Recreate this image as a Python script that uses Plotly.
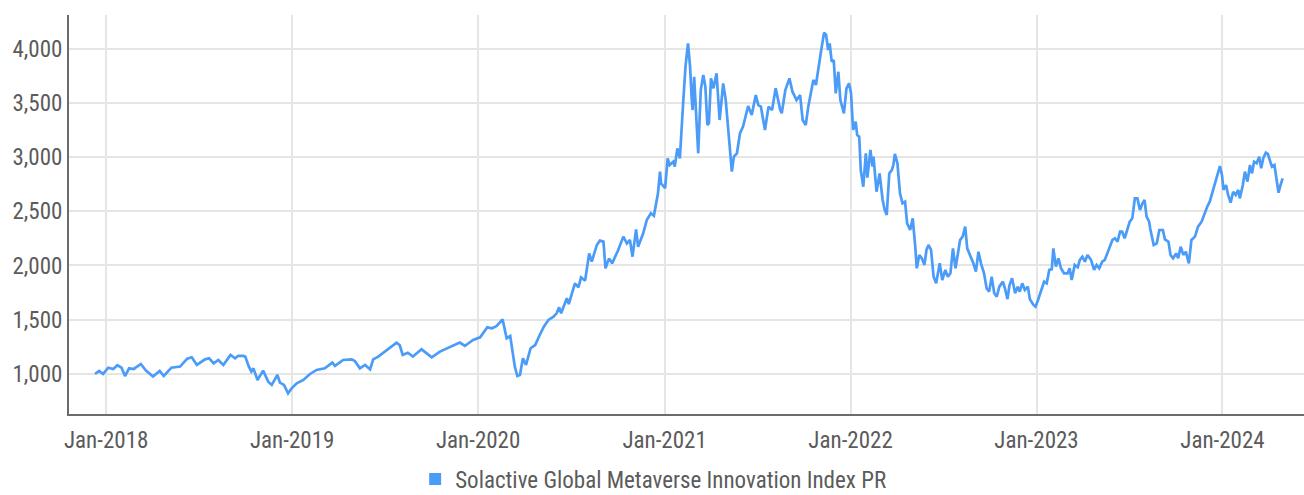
import plotly.graph_objects as go

SERIES_NAME = "Solactive Global Metaverse Innovation Index PR"

dates_2018 = ["2017-12-10", "2017-12-18", "2017-12-26", "2018-01-05", "2018-01-15", "2018-01-23", "2018-01-31",
              "2018-02-07", "2018-02-15", "2018-02-24", "2018-03-10", "2018-03-20", "2018-04-03", "2018-04-16",
              "2018-04-24", "2018-05-09", "2018-05-26", "2018-06-09", "2018-06-18", "2018-06-28", "2018-07-14",
              "2018-07-22", "2018-07-31", "2018-08-09", "2018-08-19", "2018-09-02", "2018-09-11", "2018-09-17",
              "2018-09-27", "2018-10-01", "2018-10-08", "2018-10-13", "2018-10-17", "2018-10-25", "2018-11-05",
              "2018-11-15", "2018-11-22", "2018-12-03", "2018-12-08", "2018-12-16", "2018-12-24", "2018-12-31"]
values_2018 = [1000, 1028, 1000, 1058, 1046, 1080, 1058,
               981, 1052, 1046, 1092, 1031, 976, 1028,
               981, 1058, 1068, 1141, 1154, 1083, 1135,
               1145, 1098, 1129, 1083, 1175, 1145, 1166,
               1166, 1160, 1068, 1023, 1052, 945, 1031,
               929, 899, 991, 920, 899, 822, 868]

dates_2019 = ["2019-01-10", "2019-01-23", "2019-02-05", "2019-02-18", "2019-03-06", "2019-03-21", "2019-03-26",
              "2019-04-11", "2019-04-28", "2019-05-04", "2019-05-14", "2019-05-24", "2019-06-03", "2019-06-09",
              "2019-06-19", "2019-07-02", "2019-07-15", "2019-07-25", "2019-07-31", "2019-08-06", "2019-08-16",
              "2019-08-26", "2019-09-12", "2019-10-02", "2019-10-18", "2019-11-07", "2019-11-26", "2019-12-06",
              "2019-12-22"]
values_2019 = [914, 945, 1000, 1037, 1052, 1104, 1074,
               1129, 1135, 1120, 1052, 1083, 1043, 1135,
               1160, 1206, 1252, 1289, 1267, 1175, 1196,
               1160, 1227, 1154, 1206, 1252, 1289, 1258,
               1313]

dates_2020 = ["2020-01-05", "2020-01-19", "2020-01-28", "2020-02-06", "2020-02-18", "2020-02-26", "2020-03-04",
              "2020-03-13", "2020-03-18", "2020-03-23", "2020-03-29", "2020-04-04", "2020-04-13", "2020-04-22",
              "2020-04-30", "2020-05-09", "2020-05-18", "2020-05-28", "2020-06-03", "2020-06-08", "2020-06-12",
              "2020-06-23", "2020-06-27", "2020-07-09", "2020-07-16", "2020-07-21", "2020-07-29", "2020-08-06",
              "2020-08-11", "2020-08-21", "2020-08-27", "2020-09-03", "2020-09-07", "2020-09-14", "2020-09-20",
              "2020-09-26", "2020-10-02", "2020-10-12", "2020-10-19", "2020-10-25", "2020-10-30", "2020-11-06",
              "2020-11-10", "2020-11-20", "2020-11-27", "2020-12-05", "2020-12-11", "2020-12-19", "2020-12-23",
              "2020-12-25"]
values_2020 = [1338, 1430, 1421, 1440, 1504, 1329, 1350,
               1068, 981, 990, 1144, 1083, 1237, 1267,
               1350, 1436, 1498, 1528, 1559, 1614, 1560,
               1698, 1645, 1836, 1799, 1891, 1860, 2112,
               2035, 2189, 2229, 2220, 1974, 2066, 2020,
               2081, 2143, 2266, 2204, 2235, 2081, 2333,
               2173, 2297, 2419, 2481, 2458, 2666, 2865,
               2758]

dates_2021 = ["2021-01-02", "2021-01-07", "2021-01-11", "2021-01-18", "2021-01-21", "2021-01-26", "2021-01-31",
              "2021-02-06", "2021-02-11", "2021-02-16", "2021-02-20", "2021-02-23", "2021-02-25", "2021-02-28",
              "2021-03-04", "2021-03-08", "2021-03-13", "2021-03-18", "2021-03-22", "2021-03-26", "2021-03-29",
              "2021-04-02", "2021-04-07", "2021-04-13", "2021-04-19", "2021-04-26", "2021-05-01", "2021-05-08",
              "2021-05-13", "2021-05-17", "2021-05-23", "2021-05-29", "2021-06-04", "2021-06-14", "2021-06-21",
              "2021-06-29", "2021-07-04", "2021-07-09", "2021-07-17", "2021-07-24", "2021-07-31", "2021-08-07",
              "2021-08-16", "2021-08-19", "2021-08-26", "2021-09-03", "2021-09-09", "2021-09-17", "2021-09-24",
              "2021-09-29", "2021-10-05", "2021-10-10", "2021-10-15", "2021-10-20", "2021-10-25", "2021-10-29",
              "2021-11-05", "2021-11-10", "2021-11-14", "2021-11-18", "2021-11-21", "2021-11-25", "2021-11-29",
              "2021-12-03", "2021-12-08", "2021-12-12", "2021-12-19", "2021-12-24", "2021-12-29"]
values_2021 = [2712, 2988, 2926, 2957, 2911, 3080, 2988,
               3464, 3833, 4048, 3833, 3556, 3433, 3740,
               3433, 3034, 3617, 3756, 3648, 3295, 3311,
               3725, 3633, 3771, 3341, 3679, 3525, 3126,
               2865, 3003, 3034, 3219, 3280, 3470, 3387,
               3571, 3479, 3464, 3249, 3464, 3433, 3633,
               3433, 3403, 3617, 3725, 3602, 3525, 3571,
               3341, 3295, 3464, 3602, 3710, 3664, 3802,
               4002, 4146, 4125, 3986, 4048, 3879, 3894,
               3587, 3786, 3525, 3403, 3633, 3679]

dates_2022 = ["2022-01-02", "2022-01-06", "2022-01-11", "2022-01-14", "2022-01-18", "2022-01-21", "2022-01-26",
              "2022-01-31", "2022-02-03", "2022-02-09", "2022-02-13", "2022-02-15", "2022-02-21", "2022-02-27",
              "2022-03-05", "2022-03-09", "2022-03-13", "2022-03-18", "2022-03-23", "2022-03-26", "2022-03-29",
              "2022-04-03", "2022-04-08", "2022-04-13", "2022-04-18", "2022-04-22", "2022-04-28", "2022-05-03",
              "2022-05-08", "2022-05-11", "2022-05-16", "2022-05-21", "2022-05-26", "2022-05-30", "2022-06-03",
              "2022-06-08", "2022-06-13", "2022-06-18", "2022-06-25", "2022-06-30", "2022-07-06", "2022-07-11",
              "2022-07-16", "2022-07-21", "2022-07-26", "2022-07-30", "2022-08-04", "2022-08-09", "2022-08-14",
              "2022-08-18", "2022-08-24", "2022-08-30", "2022-09-04", "2022-09-09", "2022-09-14", "2022-09-20",
              "2022-09-25", "2022-09-30", "2022-10-05", "2022-10-10", "2022-10-15", "2022-10-20", "2022-10-27",
              "2022-10-31", "2022-11-05", "2022-11-09", "2022-11-14", "2022-11-20", "2022-11-25", "2022-11-29",
              "2022-12-04", "2022-12-09", "2022-12-15", "2022-12-19", "2022-12-26", "2022-12-30"]
values_2022 = [3587, 3249, 3326, 3203, 3187, 2880, 2726,
               3034, 2810, 3065, 2911, 3003, 2680, 2849,
               2604, 2512, 2465, 2849, 2880, 2926, 3028,
               2942, 2665, 2573, 2588, 2389, 2327, 2435,
               2173, 1974, 2097, 2066, 2005, 2143, 2189,
               2143, 1897, 1836, 2020, 1866, 1959, 1897,
               1928, 2158, 1974, 2112, 2235, 2266, 2358,
               2158, 2097, 2020, 1943, 2127, 2020, 1928,
               1790, 1759, 1897, 1744, 1713, 1805, 1851,
               1790, 1690, 1820, 1882, 1744, 1805, 1759,
               1836, 1774, 1805, 1689, 1636, 1620]

dates_2023 = ["2023-01-04", "2023-01-11", "2023-01-16", "2023-01-21", "2023-01-26", "2023-01-31", "2023-02-03",
              "2023-02-08", "2023-02-13", "2023-02-18", "2023-02-24", "2023-03-03", "2023-03-07", "2023-03-11",
              "2023-03-17", "2023-03-23", "2023-03-27", "2023-04-01", "2023-04-06", "2023-04-11", "2023-04-18",
              "2023-04-24", "2023-04-29", "2023-05-04", "2023-05-10", "2023-05-15", "2023-05-21", "2023-05-25",
              "2023-05-30", "2023-06-04", "2023-06-09", "2023-06-14", "2023-06-18", "2023-06-23", "2023-06-29",
              "2023-07-03", "2023-07-08", "2023-07-13", "2023-07-18", "2023-07-23", "2023-07-28", "2023-08-01",
              "2023-08-05", "2023-08-10", "2023-08-12", "2023-08-15", "2023-08-19", "2023-08-25", "2023-08-30",
              "2023-09-06", "2023-09-10", "2023-09-17", "2023-09-21", "2023-09-26", "2023-10-02", "2023-10-06",
              "2023-10-11", "2023-10-16", "2023-10-21", "2023-10-27", "2023-11-01", "2023-11-08", "2023-11-14",
              "2023-11-21", "2023-11-27", "2023-12-02", "2023-12-07", "2023-12-12", "2023-12-17", "2023-12-22",
              "2023-12-27", "2023-12-31"]
values_2023 = [1682, 1774, 1851, 1836, 1959, 1965, 2158,
               1989, 2066, 1974, 1928, 1928, 1974, 1866,
               2005, 1984, 2051, 2081, 2035, 2097, 2051,
               1959, 2005, 1974, 2035, 2051, 2127, 2158,
               2235, 2251, 2219, 2312, 2312, 2251, 2358,
               2404, 2435, 2619, 2619, 2512, 2573, 2604,
               2450, 2404, 2343, 2280, 2189, 2204, 2327,
               2327, 2241, 2219, 2097, 2066, 2112, 2066,
               2173, 2097, 2127, 2020, 2235, 2266, 2358,
               2404, 2481, 2542, 2588, 2665, 2742, 2819,
               2917, 2834]

dates_2024 = ["2024-01-03", "2024-01-08", "2024-01-12", "2024-01-17", "2024-01-22", "2024-01-27", "2024-02-01",
              "2024-02-04", "2024-02-10", "2024-02-14", "2024-02-19", "2024-02-24", "2024-02-28", "2024-03-03",
              "2024-03-08", "2024-03-13", "2024-03-17", "2024-03-21", "2024-03-26", "2024-03-30", "2024-04-04",
              "2024-04-07", "2024-04-12", "2024-04-16", "2024-04-20", "2024-04-24", "2024-04-28"]
values_2024 = [2696, 2742, 2650, 2579, 2680, 2650, 2696,
               2619, 2742, 2865, 2773, 2926, 2849, 2957,
               2942, 3003, 2896, 2988, 3040, 3028, 2942,
               2911, 2926, 2788, 2671, 2742, 2803]

y_ticks = [1000, 1500, 2000, 2500, 3000, 3500, 4000]

dates = dates_2018 + dates_2019 + dates_2020 + dates_2021 + dates_2022 + dates_2023 + dates_2024
values = values_2018 + values_2019 + values_2020 + values_2021 + values_2022 + values_2023 + values_2024

LINE = "#4b9bf8"
FONT = "Liberation Sans Narrow, Roboto Condensed, Arial Narrow, sans-serif"
TXT = "#5b5b5b"

fig = go.Figure()
fig.add_trace(go.Scatter(x=dates, y=values, mode="lines", name=SERIES_NAME,
                         line=dict(color=LINE, width=2.7), showlegend=False))
fig.add_trace(go.Scatter(x=[None], y=[None], mode="markers", name=SERIES_NAME,
                         marker=dict(symbol="square", size=12, color=LINE), showlegend=True))

fig.update_layout(
    width=1304, height=495,
    margin=dict(l=69, r=0, t=15, b=81, autoexpand=False),
    paper_bgcolor="white", plot_bgcolor="white",
    font=dict(family=FONT, size=23, color=TXT),
    legend=dict(orientation="h", x=0.473, xanchor="center", yref="container", y=0.032,
                yanchor="middle", itemwidth=30, font=dict(size=23, color=TXT)),
    xaxis=dict(type="date", range=["2017-10-20", "2024-06-09"], automargin=False,
               tick0="2018-01-01", dtick="M12", tickformat="%b-%Y",
               showgrid=True, gridcolor="#e5e5e5", gridwidth=2,
               showline=True, linecolor="#6b6b6b", linewidth=2,
               ticks="", ticklabelstandoff=4, zeroline=False),
    yaxis=dict(range=[631, 4309], tickvals=y_ticks, tickformat=",d", automargin=False,
               showgrid=True, gridcolor="#e5e5e5", gridwidth=2,
               showline=True, linecolor="#6b6b6b", linewidth=2,
               ticks="", ticklabelstandoff=0, zeroline=False),
)

fig.write_html("out.html", config={"displayModeBar": False},
               post_script="document.body.style.margin='0';document.body.style.overflow='hidden';")
